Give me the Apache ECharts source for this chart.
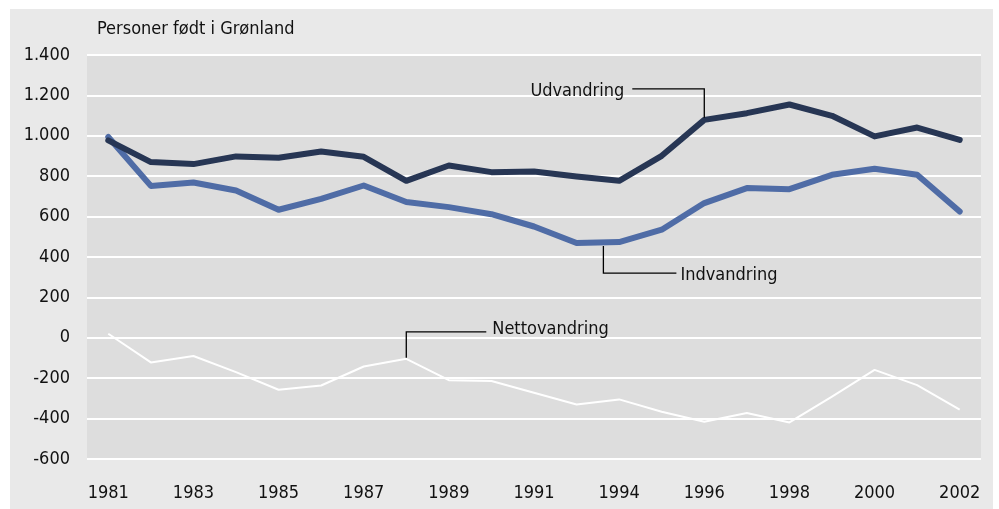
<!DOCTYPE html>
<html>
<head>
<meta charset="utf-8">
<script src="https://cdn.jsdelivr.net/npm/echarts@6/dist/echarts.min.js"></script>
<style>
html,body{margin:0;padding:0;background:#ffffff;width:999px;height:509px;overflow:hidden;}
#chart{position:absolute;left:10px;top:9px;width:983px;height:500px;}
</style>
</head>
<body>
<div id="chart"></div>
<script>
// Data
const years = ['1981','1982','1983','1984','1985','1986','1987','1988','1989','1990','1991','1992','1994','1995','1996','1997','1998','1999','2000','2001','2002'];
const udvandring = [977, 870, 860, 898, 891, 922, 896, 777, 853, 820, 823, 798, 777, 901, 1079, 1112, 1155, 1099, 997, 1041, 980];
const indvandring = [994, 752, 769, 729, 634, 688, 754, 672, 647, 612, 551, 469, 474, 535, 667, 741, 736, 807, 837, 807, 625];
const nettovandring = [20, -122, -90, -170, -257, -236, -142, -104, -210, -214, -272, -330, -305, -366, -416, -372, -419, -291, -159, -234, -356];
const yTicks = { min: -600, max: 1400, interval: 200 };
const titleText = 'Personer født i Grønland';
const labels = { ud: 'Udvandring', ind: 'Indvandring', net: 'Nettovandring' };

const FONT = '"DejaVu Sans Condensed", sans-serif';
const FS = 18;
const chart = echarts.init(document.getElementById('chart'), null, { renderer: 'canvas' });

function fmt(v) {
  const s = Math.abs(v).toString();
  const t = s.replace(/\B(?=(\d{3})+(?!\d))/g, '.');
  return (v < 0 ? '-' : '') + t;
}

chart.setOption({
  animation: false,
  backgroundColor: '#e9e9e9',
  title: {
    text: titleText, left: 82, top: 6,
    textStyle: { fontFamily: FONT, fontSize: FS, fontWeight: 'normal', color: '#111' }
  },
  grid: { left: 77, right: 12, top: 46, bottom: 50, show: true, backgroundColor: '#dddddd', borderWidth: 0 },
  xAxis: {
    type: 'category', data: years, boundaryGap: true,
    axisLine: { show: false }, axisTick: { show: false },
    axisLabel: { interval: 1, margin: 25, fontFamily: FONT, fontSize: FS, color: '#111' },
    splitLine: { show: false }
  },
  yAxis: {
    type: 'value', min: yTicks.min, max: yTicks.max, interval: yTicks.interval,
    axisLine: { show: false }, axisTick: { show: false },
    axisLabel: { margin: 17, fontFamily: FONT, fontSize: FS, color: '#111', formatter: fmt },
    splitLine: { show: true, lineStyle: { color: '#ffffff', width: 2 } }
  },
  series: [
    { name: labels.ind, type: 'line', data: indvandring, symbol: 'none', z: 2,
      lineStyle: { color: '#4f6ca6', width: 6, cap: 'round', join: 'round' } },
    { name: labels.ud, type: 'line', data: udvandring, symbol: 'none', z: 3,
      lineStyle: { color: '#273654', width: 6, cap: 'round', join: 'round' } },
    { name: labels.net, type: 'line', data: nettovandring, symbol: 'none', z: 4,
      lineStyle: { color: '#ffffff', width: 2, join: 'round' } }
  ]
});

// Annotations anchored on data points
const pUd = chart.convertToPixel({ seriesIndex: 1 }, [14, udvandring[14]]);
const pInd11 = chart.convertToPixel({ seriesIndex: 0 }, [11, indvandring[11]]);
const pInd12 = chart.convertToPixel({ seriesIndex: 0 }, [12, indvandring[12]]);
const pNet = chart.convertToPixel({ seriesIndex: 2 }, [7, nettovandring[7]]);

const indX = pInd11[0] + (pInd12[0] - pInd11[0]) * 0.63;
const indY = Math.max(pInd11[1], pInd12[1]) + 3;

const lineStyle = { stroke: '#000', lineWidth: 1.3, fill: null };
const txtStyle = { font: FS + 'px ' + FONT, fill: '#111', verticalAlign: 'middle' };

chart.setOption({
  graphic: [
    { type: 'polyline', z: 10, shape: { points: [[pUd[0], pUd[1] - 2], [pUd[0], pUd[1] - 31], [pUd[0] - 72, pUd[1] - 31]] }, style: lineStyle },
    { type: 'text', z: 10, style: Object.assign({}, txtStyle, { text: labels.ud, x: pUd[0] - 80, y: pUd[1] - 29, align: 'right' }) },
    { type: 'polyline', z: 10, shape: { points: [[indX, indY], [indX, indY + 27], [indX + 73, indY + 27]] }, style: lineStyle },
    { type: 'text', z: 10, style: Object.assign({}, txtStyle, { text: labels.ind, x: indX + 77, y: indY + 29, align: 'left' }) },
    { type: 'polyline', z: 10, shape: { points: [[pNet[0], pNet[1] - 1], [pNet[0], pNet[1] - 27], [pNet[0] + 80, pNet[1] - 27]] }, style: lineStyle },
    { type: 'text', z: 10, style: Object.assign({}, txtStyle, { text: labels.net, x: pNet[0] + 86, y: pNet[1] - 29, align: 'left' }) }
  ]
});
</script>
</body>
</html>
